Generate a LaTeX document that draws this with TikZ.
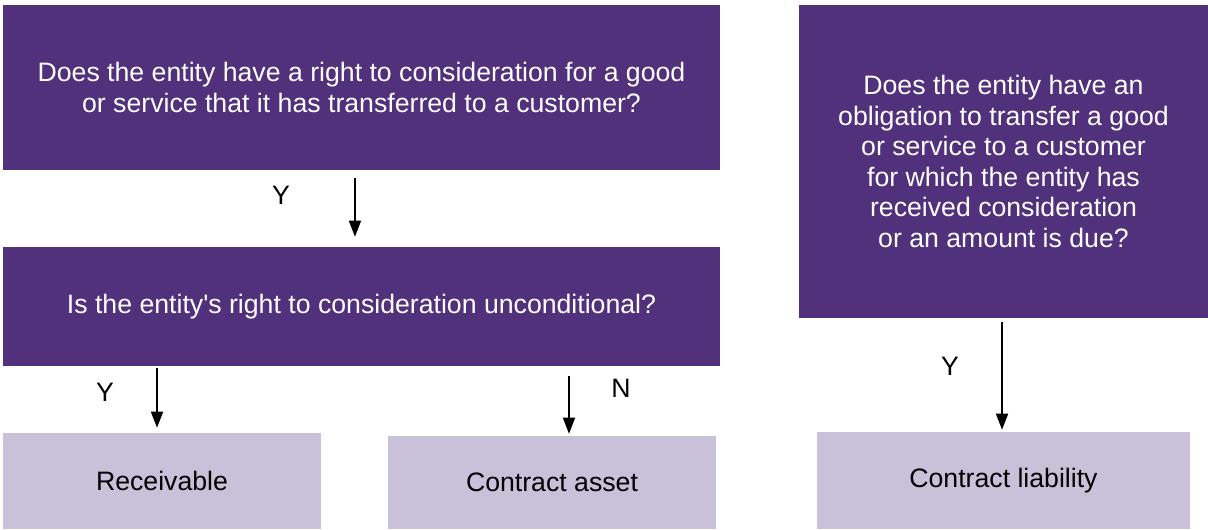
\documentclass[tikz,border=0pt]{standalone}
\usepackage{fontspec}
\setmainfont{Liberation Sans}
\usepackage{xcolor}
\usetikzlibrary{arrows.meta}
\definecolor{darkpurple}{HTML}{51307C}
\definecolor{lightpurple}{HTML}{C9C0DA}

\begin{document}
\begin{tikzpicture}[x=0.75pt,y=-0.75pt]
    % Define styles
    \tikzset{
        question/.style={rectangle, fill=darkpurple, text=white, align=center, inner sep=0pt, font=\fontsize{20}{22.9}\selectfont},
        result/.style={rectangle, fill=lightpurple, text=black, align=center, inner sep=0pt, font=\fontsize{20}{22.9}\selectfont},
        arrow/.style={-{Triangle[length=12pt,width=9pt]}, line width=1.1pt},
        answer/.style={font=\fontsize{20}{22.9}\selectfont}
    }
    \useasboundingbox (0,0) rectangle (1208,529);

    % Nodes
    \node[question, minimum width=537.75pt, minimum height=123.75pt] (right_q) at (361.5,87.5)
        {Does the entity have a right to consideration for a good\\or service that it has transferred to a customer?};
    \node[question, minimum width=537.75pt, minimum height=89.25pt] (uncond_q) at (361.5,306.5)
        {Is the entity\textquotesingle s right to consideration unconditional?};
    \node[question, minimum width=306.75pt, minimum height=234.75pt] (oblig_q) at (1003.5,161.5)
        {Does the entity have an\\obligation to transfer a good\\or service to a customer\\for which the entity has\\received consideration\\or an amount is due?};
    \node[result, minimum width=238.5pt, minimum height=72pt] (receivable) at (162,481) {Receivable};
    \node[result, minimum width=246pt, minimum height=69.75pt] (asset) at (552,482.5) {Contract asset};
    \node[result, minimum width=279.75pt, minimum height=72.75pt] (liability) at (1003.5,480.5) {Contract liability};

    % Arrows
    \draw[arrow, shorten <=6pt, shorten >=7.5pt] ([xshift=-4.9pt]right_q.south) -- ([xshift=-4.9pt]uncond_q.north);
    \draw[arrow, shorten <=1.5pt, shorten >=3.75pt] ([xshift=-3.75pt]receivable.north |- uncond_q.south) -- ([xshift=-3.75pt]receivable.north);
    \draw[arrow, shorten <=7.5pt, shorten >=1.5pt] ([xshift=12.75pt]asset.north |- uncond_q.south) -- ([xshift=12.75pt]asset.north);
    \draw[arrow, shorten <=3pt, shorten >=1.5pt] ([xshift=-1.1pt]oblig_q.south) -- ([xshift=-1.1pt]liability.north);

    % Answer labels
    \node[answer] (y_one) at (281,195) {Y};
    \node[answer] (y_two) at (105,392) {Y};
    \node[answer] (n_one) at (621,388) {N};
    \node[answer] (y_three) at (950,366) {Y};
\end{tikzpicture}
\end{document}
